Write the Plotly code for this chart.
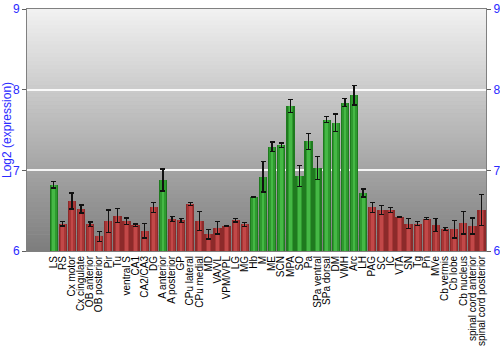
import plotly.graph_objects as go

regions = ["LS", "RS", "Cx motor", "Cx cingulate", "OB anterior", "OB posterior", "Pir", "Tu",
           "ventral S", "CA1", "CA2/CA3", "DG", "A anterior", "A posterior", "GP", "CPu lateral",
           "CPu medial", "MD", "VA/VL", "VPM/VPL", "LG", "MG", "Hb", "M", "ME", "SCN", "MPA", "SO",
           "Pa", "SPa ventral", "SPa dorsal", "DM", "VMH", "Arc", "LH", "PAG", "SC", "IC", "VTA",
           "SN", "Tg", "Pn", "MVe", "Cb vermis", "Cb lobe", "Cb nucleus", "spinal cord anterior",
           "spinal cord posterior"]
expression = [6.82, 6.34, 6.62, 6.52, 6.33, 6.18, 6.37, 6.44, 6.37, 6.32, 6.25, 6.54, 6.88, 6.40,
              6.38, 6.58, 6.37, 6.21, 6.29, 6.31, 6.38, 6.33, 6.67, 6.92, 7.29, 7.31, 7.80, 6.93,
              7.36, 7.03, 7.63, 7.59, 7.84, 7.93, 6.72, 6.54, 6.51, 6.51, 6.42, 6.34, 6.34, 6.40,
              6.32, 6.27, 6.27, 6.35, 6.31, 6.51]
error = [0.04, 0.03, 0.10, 0.05, 0.03, 0.06, 0.14, 0.085, 0.04, 0.015, 0.09, 0.06, 0.135, 0.03,
         0.025, 0.02, 0.12, 0.06, 0.08, 0.01, 0.02, 0.025, 0.01, 0.19, 0.06, 0.03, 0.08, 0.13,
         0.10, 0.145, 0.035, 0.11, 0.05, 0.12, 0.05, 0.06, 0.055, 0.03, 0.005, 0.065, 0.025, 0.012,
         0.08, 0.02, 0.11, 0.14, 0.10, 0.19]
enriched = ["LS", "A anterior", "Hb", "M", "ME", "SCN", "MPA", "SO", "Pa", "SPa ventral",
            "SPa dorsal", "DM", "VMH", "Arc", "LH"]
y_ticks = [6, 7, 8, 9]

dark = ["#1f7a1f" if r in enriched else "#8c2a2a" for r in regions]
mid = ["#2f9a2f" if r in enriched else "#a83636" for r in regions]
light = ["#45b845" if r in enriched else "#c24848" for r in regions]

FONT = "Liberation Sans, Arial, sans-serif"
BLUE = "#2a2aff"

fig = go.Figure()
fig.add_trace(go.Bar(x=regions, y=[v - 6 for v in expression], base=6, width=0.92,
                     marker=dict(color=dark, line=dict(width=0)), hoverinfo="skip"))
fig.add_trace(go.Bar(x=regions, y=[v - 6 for v in expression], base=6, width=0.62,
                     marker=dict(color=mid, line=dict(width=0)), hoverinfo="skip"))
fig.add_trace(go.Bar(x=regions, y=[v - 6 for v in expression], base=6, width=0.3,
                     marker=dict(color=light, line=dict(width=0)),
                     error_y=dict(type="data", array=error, color="#111111", thickness=1.3, width=2.5)))
fig.add_trace(go.Scatter(x=[regions[0]], y=[6], yaxis="y2", mode="markers",
                         marker=dict(opacity=0), showlegend=False, hoverinfo="skip"))

# vertical gray gradient background
n = 60
top = (242, 242, 242)
bot = (125, 125, 125)
shapes = []
for i in range(n):
    t = (i + 0.5) / n
    c = tuple(int(round(top[k] + (bot[k] - top[k]) * t)) for k in range(3))
    shapes.append(dict(type="rect", xref="paper", yref="paper", x0=0, x1=1,
                       y0=1 - (i + 1) / n, y1=1 - i / n + 0.002, layer="below",
                       line=dict(width=0), fillcolor="rgb(%d,%d,%d)" % c))

fig.update_layout(
    width=500, height=350,
    margin=dict(l=27, r=14, t=9, b=99),
    barmode="overlay", bargap=0, showlegend=False,
    paper_bgcolor="white", plot_bgcolor="#b0b0b0",
    font=dict(family=FONT),
    shapes=shapes,
    xaxis=dict(tickmode="array", tickvals=regions, ticktext=regions,
               tickangle=-90, tickfont=dict(size=10, color="black", family=FONT),
               showline=True, mirror=True, linecolor="#808080", linewidth=1,
               showgrid=False, ticks="", automargin=False),
    yaxis=dict(range=[6, 9], tickvals=y_ticks, tickfont=dict(size=12, color=BLUE, family=FONT),
               ticks="outside", ticklen=4, tickcolor="#606060",
               showline=True, linecolor="#808080", linewidth=1,
               gridcolor="rgba(255,255,255,0.9)", gridwidth=1.5, zeroline=False,
               automargin=False),
    yaxis2=dict(range=[6, 9], tickvals=y_ticks, overlaying="y", side="right",
                tickfont=dict(size=12, color=BLUE, family=FONT),
                ticks="outside", ticklen=4, tickcolor="#606060",
                showline=True, linecolor="#808080", linewidth=1,
                showgrid=False, zeroline=False, automargin=False),
    annotations=[dict(text="Log2 (expression)", textangle=-90, xref="paper", yref="paper",
                      x=0, y=0.5, xshift=-20, xanchor="center", yanchor="middle",
                      showarrow=False, font=dict(size=12, color=BLUE, family=FONT))],
)

fig.write_html("out.html")
